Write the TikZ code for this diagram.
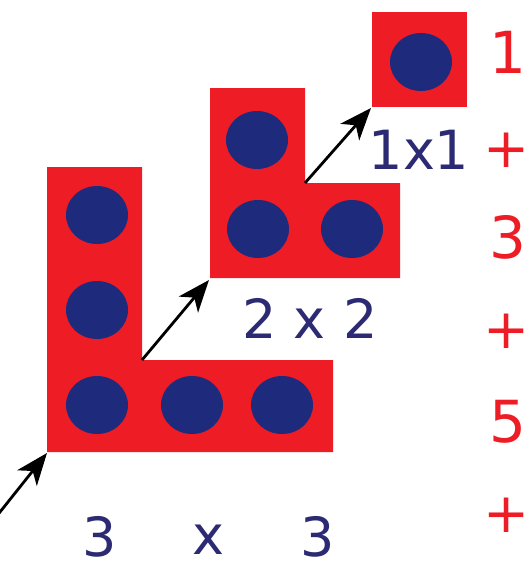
\documentclass[tikz,border=0pt]{standalone}
\usepackage{fontspec}
\setmainfont{DejaVu Sans}
\usetikzlibrary{arrows.meta}
\definecolor{bred}{HTML}{EE1C25}
\definecolor{dotblue}{HTML}{1E2B7C}
\definecolor{navy}{HTML}{2B2A72}
\begin{document}
\begin{tikzpicture}[x=1pt,y=-1pt,
  block/.style={fill=bred},
  dotc/.style={fill=dotblue},
  lbl/.style={text=navy,font=\fontsize{54}{60}\selectfont,inner sep=0pt},
  sumt/.style={text=bred,font=\fontsize{58}{64}\selectfont,inner sep=0pt},
  plus/.style={text=bred,font=\fontsize{55}{60}\selectfont,inner sep=0pt},
  arr/.style={-{Stealth[length=32pt,width=25pt,inset=9pt]},line width=2.8pt,black}]
\useasboundingbox (0,0) rectangle (531,581);
\clip (0,0) rectangle (531,581);
% big L (3x3)
\fill[block] (47,167) -- (142,167) -- (142,360) -- (333,360) -- (333,452) -- (47,452) -- cycle;
\foreach \p in {(97,215),(97,310),(97,405),(192,405),(282,405)}
  \fill[dotc] \p ellipse [x radius=31, y radius=29];
% medium L (2x2)
\fill[block] (210,88) -- (305,88) -- (305,183) -- (400,183) -- (400,278) -- (210,278) -- cycle;
\foreach \p in {(257,140),(258,229),(352,229)}
  \fill[dotc] \p ellipse [x radius=31, y radius=29];
% small square (1x1)
\fill[block] (372,12) rectangle (467,107);
\fill[dotc] (421,62) ellipse [x radius=31, y radius=29];
% connector points
\coordinate (s0) at (-4,517);
\coordinate (bigBL) at (47,453);
\coordinate (bigIn) at (142,360);
\coordinate (medBL) at (209,280);
\coordinate (medIn) at (305,183);
\coordinate (smBL) at (371,108);
\draw[arr] (s0) -- (bigBL);
\draw[arr] (bigIn) -- (medBL);
\draw[arr] (medIn) -- (smBL);
% labels
\node[lbl] (a1) at (100,537) {3};
\node[lbl] (ax) at (208,540) {x};
\node[lbl] (a2) at (318,537) {3};
\node[lbl] (b) at (310,318) {2 x 2};
\node[lbl] (c) at (419,150) {1x1};
% sums
\node[sumt] (n1) at (508,52) {1};
\node[plus] (p1) at (507,150) {+};
\node[sumt] (n3) at (508,237) {3};
\node[plus] (p2) at (507,331) {+};
\node[sumt] (n5) at (508,422) {5};
\node[plus] (p3) at (507,515) {+};
\end{tikzpicture}
\end{document}
